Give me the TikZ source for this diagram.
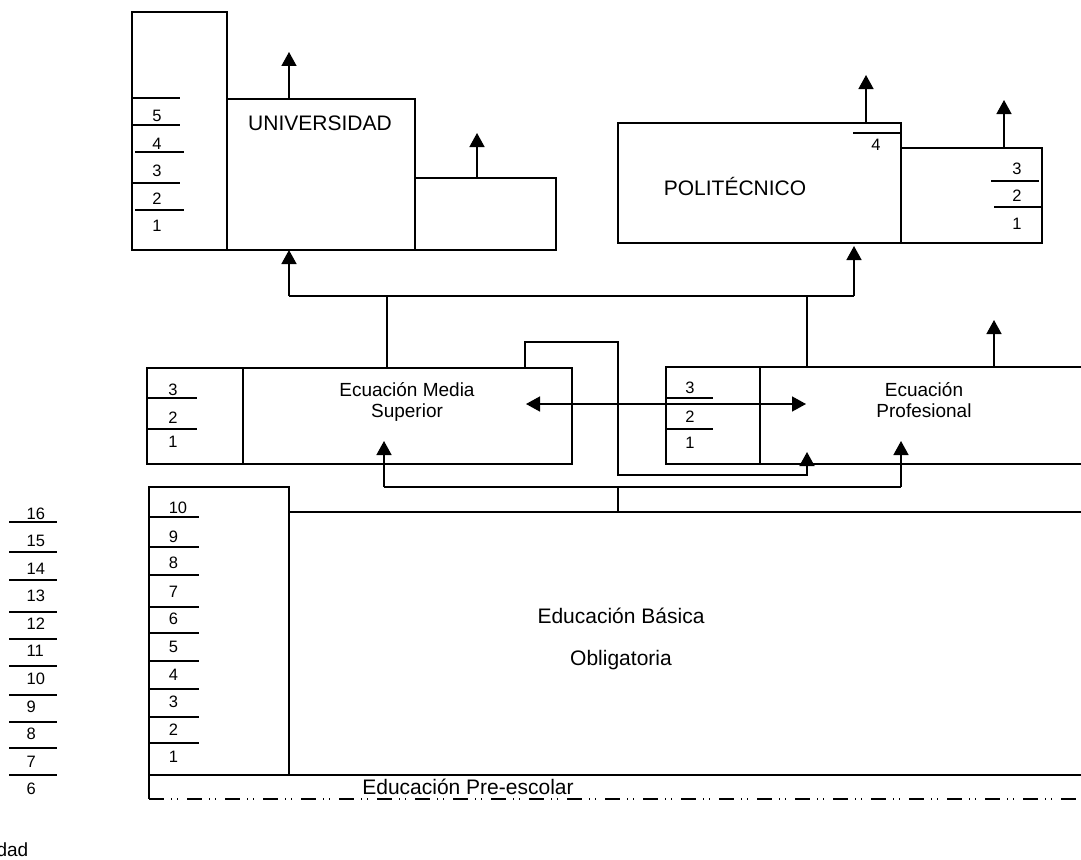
\documentclass[tikz,border=0pt]{standalone}
\usepackage{fontspec}
\setmainfont{Liberation Sans}
\usetikzlibrary{arrows.meta}
\begin{document}
\begin{tikzpicture}[x=1pt,y=-1pt,
  line width=1.5pt,
  box/.style={draw, rectangle, inner sep=0pt, outer sep=0pt, anchor=north west},
  num/.style={font=\fontsize{16.5}{16.5}\selectfont, anchor=base west, inner sep=0pt},
  cnum/.style={num, anchor=base},
  big/.style={font=\fontsize{21}{21}\selectfont, anchor=base, inner sep=0pt},
  mid/.style={font=\fontsize{19}{19}\selectfont, anchor=base, inner sep=0pt},
  arr/.style={-{Triangle[length=14pt,width=15pt]}},
  dbl/.style={{Triangle[length=14pt,width=15pt]}-{Triangle[length=14pt,width=15pt]}},
  predash/.style={line width=1.6pt, dash pattern=on 15pt off 7pt on 1.2pt off 5pt on 1.2pt off 8.6pt}]
\useasboundingbox (0,0) rectangle (1081,859);
\clip (0,0) rectangle (1081,859);

% ---- Universidad ----
\node[box, minimum width=95pt, minimum height=238pt] (uyears) at (132,12) {};
\node[box, minimum width=188pt, minimum height=151pt] (univ) at (227,99) {};
\node[box, minimum width=141pt, minimum height=72pt] (uright) at (415,178) {};
\node[big] (univT) at (320,130) {UNIVERSIDAD};
\foreach \xa/\xb/\yy in {132/180/98, 132/180/125, 135/184/152, 132/180/183, 135/184/210}
  \draw (\xa,\yy) -- (\xb,\yy);
\foreach \n/\yy in {5/121, 4/149, 3/176, 2/204, 1/231}
  \node[cnum] (u\n) at (157,\yy) {\n};

% ---- Politécnico ----
\node[box, minimum width=283pt, minimum height=120pt] (poli) at (618,123) {};
\node[box, minimum width=141pt, minimum height=95pt] (pright) at (901,148) {};
\node[big] (poliT) at (735,195) {POLITÉCNICO};
\draw (853,133) -- (901,133);
\node[cnum] (p4) at (876,150) {4};
\draw (991,181) -- (1039,181);
\draw (994,207) -- (1042,207);
\foreach \n/\yy in {3/174.2, 2/201, 1/229.2}
  \node[cnum] (p\n) at (1017,\yy) {\n};

% ---- Educación Media Superior ----
\node[box, minimum width=96pt, minimum height=96pt] (msyears) at (147,368) {};
\node[box, minimum width=329pt, minimum height=96pt] (media) at (243,368) {};
\node[mid] (msT1) at (407,396) {Ecuación Media};
\node[mid] (msT2) at (407,417) {Superior};
\draw (147,398) -- (197,398);
\draw (147,429) -- (197,429);
\foreach \n/\yy in {3/395.2, 2/423.2, 1/447.5}
  \node[cnum] (m\n) at (173,\yy) {\n};

% ---- Educación Profesional ----
\node[box, minimum width=94pt, minimum height=97pt] (pyears) at (666,367) {};
\node[box, minimum width=340pt, minimum height=97pt] (prof) at (760,367) {};
\node[mid] (prT1) at (924,396) {Ecuación};
\node[mid] (prT2) at (924,417) {Profesional};
\draw (666,398) -- (713,398);
\draw (666,429) -- (713,429);
\foreach \n/\yy in {3/393.2, 2/422, 1/448.5}
  \node[cnum] (f\n) at (690,\yy) {\n};

% ---- Educación Básica Obligatoria ----
\node[box, minimum width=140pt, minimum height=288pt] (byears) at (149,487) {};
\node[box, minimum width=800pt, minimum height=263pt] (basica) at (289,512) {};
\node[big] (bT1) at (621,623) {Educación Básica};
\node[big] (bT2) at (621,665) {Obligatoria};
\foreach \yy in {517,547,575,607,633,661,689,717,743}
  \draw (149,\yy) -- (199,\yy);
\foreach \n/\yy in {10/513.2, 9/542, 8/568.5, 7/597, 6/624.2, 5/652, 4/680, 3/707.5, 2/735.2, 1/762.5}
  \node[num] (b\n) at (168,\yy) {\n};

% ---- Educación Pre-escolar ----
\coordinate (preL) at (149,799);
\coordinate (preR) at (1076,799);
\draw (byears.south west) -- (preL);
\draw[predash] (preL) -- (preR);
\node[big] (preT) at (468,794) {Educación Pre-escolar};

% ---- age scale ----
\foreach \yy in {522,552,580,612,639,666,695,722,748,775}
  \draw (9,\yy) -- (57,\yy);
\foreach \n/\yy in {16/519.2, 15/546, 14/574.2, 13/601, 12/629.2, 11/656.5, 10/684.2, 9/712.5, 8/739.2, 7/767, 6/794.2}
  \node[num] (e\n) at (26,\yy) {\n};
\node[mid, anchor=base east] (edad) at (29,856) {dad};

% ---- connectors ----
\coordinate (uTip) at (289,52);
\coordinate (urTip) at (477,133);
\coordinate (pTip) at (866,75);
\coordinate (prTip) at (1004,100);
\coordinate (fTip) at (994,320);
\draw[arr] (uTip |- univ.north) -- (uTip);
\draw[arr] (urTip |- uright.north) -- (urTip);
\draw[arr] (pTip |- poli.north) -- (pTip);
\draw[arr] (prTip |- pright.north) -- (prTip);
\draw[arr] (fTip |- prof.north) -- (fTip);

\coordinate (busL) at (289,296);
\coordinate (busR) at (854,296);
\coordinate (msUp) at (387,296);
\coordinate (prUp) at (807,296);
\draw (busL) -- (busR);
\draw[arr] (busL) -- (busL |- univ.south);
\draw[arr] (busR) -- ([yshift=-3pt]busR |- poli.south);
\draw (msUp |- media.north) -- (msUp);
\draw (prUp |- prof.north) -- (prUp);

\coordinate (dL) at (526,404);
\coordinate (dR) at (806,404);
\draw[dbl] (dL) -- (dR);

\coordinate (lp1) at (525,342);
\coordinate (lp2) at (618,475);
\coordinate (lpTip) at (807,452);
\draw[arr] (lp1 |- media.north) -- (lp1) -| (lp2) -| (lpTip);

\coordinate (lwL) at (384,487);
\coordinate (lwR) at (901,487);
\coordinate (lwJ) at (618,487);
\coordinate (msTip) at (384,441);
\coordinate (pfTip) at (901,441);
\draw (lwL) -- (lwR);
\draw (lwJ) -- (lwJ |- basica.north);
\draw[arr] (lwL) -- (msTip);
\draw[arr] (lwR) -- (pfTip);
\end{tikzpicture}
\end{document}
